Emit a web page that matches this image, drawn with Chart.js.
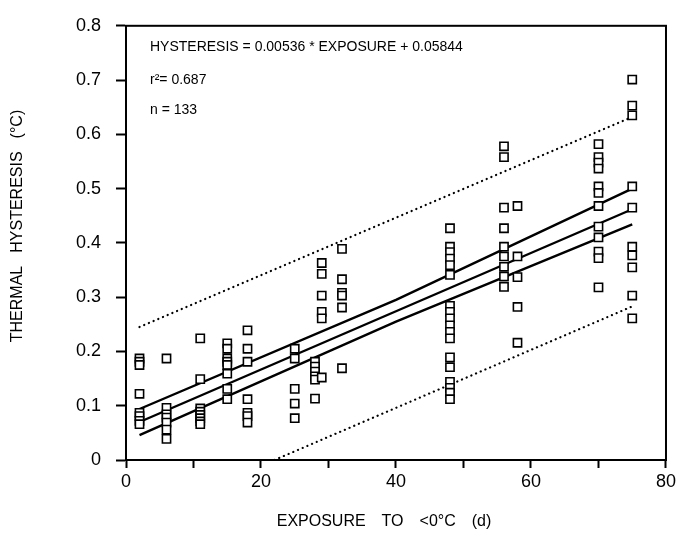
<!DOCTYPE html>
<html>
<head>
<meta charset="utf-8">
<script src="https://cdn.jsdelivr.net/npm/chart.js@4.4.0/dist/chart.umd.min.js"></script>
<style>
  html, body { margin: 0; padding: 0; background: #fff; }
  #wrap { width: 679px; height: 535px; }
</style>
</head>
<body>
<div id="wrap"><canvas id="myChart" width="679" height="535"></canvas></div>
<script>
// exposure (days below 0 °C) for each column of samples
const exposureDays = [2, 6, 11, 15, 18, 25, 28, 29, 32, 48, 56, 58, 70, 75];

// thermal hysteresis readings (°C) for each exposure column
const hysteresisValues = [
    [0.187, 0.181, 0.175, 0.122, 0.087, 0.081, 0.072, 0.066],
    [0.187, 0.096, 0.084, 0.078, 0.069, 0.056, 0.039],
    [0.224, 0.149, 0.095, 0.089, 0.083, 0.077, 0.071, 0.066],
    [0.215, 0.205, 0.187, 0.181, 0.175, 0.159, 0.131, 0.112],
    [0.239, 0.205, 0.181, 0.112, 0.087, 0.081, 0.069],
    [0.205, 0.187, 0.131, 0.104, 0.077],
    [0.181, 0.172, 0.163, 0.154, 0.148, 0.113],
    [0.363, 0.343, 0.303, 0.273, 0.261, 0.152],
    [0.389, 0.333, 0.308, 0.303, 0.281, 0.169],
    [0.427, 0.393, 0.383, 0.371, 0.359, 0.341, 0.284, 0.273, 0.261, 0.248, 0.236, 0.224, 0.189, 0.171, 0.144, 0.133, 0.124, 0.112],
    [0.578, 0.558, 0.465, 0.427, 0.393, 0.375, 0.356, 0.338, 0.319],
    [0.468, 0.375, 0.337, 0.282, 0.216],
    [0.582, 0.558, 0.548, 0.537, 0.504, 0.492, 0.468, 0.430, 0.410, 0.384, 0.372, 0.318],
    [0.701, 0.653, 0.635, 0.504, 0.465, 0.393, 0.377, 0.355, 0.303, 0.261]
];

// regression line and its bands
const fitX = [2, 75];
const fitY = [0.070, 0.462];
const confUpperX = [2, 40, 75];
const confUpperY = [0.094, 0.295, 0.500];
const confLowerX = [2, 40, 75];
const confLowerY = [0.046, 0.255, 0.434];
const predUpperX = [2, 75];
const predUpperY = [0.245, 0.632];
const predLowerX = [22, 75];
const predLowerY = [0.0, 0.283];

// axis ticks
const xTicks = [0, 20, 40, 60, 80];
const yTicks = [0, 0.1, 0.2, 0.3, 0.4, 0.5, 0.6, 0.7, 0.8];

// titles and annotation text
const xTitle = 'EXPOSURE TO <0\u00B0C (d)';
const yTitle = 'THERMAL HYSTERESIS (\u00B0C)';
const noteLines = ['HYSTERESIS = 0.00536 * EXPOSURE + 0.05844', 'r\u00B2= 0.687', 'n = 133'];

const FONT = '"Liberation Sans", Arial, Helvetica, sans-serif';

function toPoints(xs, ys) {
    return xs.map((x, i) => ({ x: x, y: ys[i] }));
}

const samplePoints = [];
exposureDays.forEach((d, i) => {
    hysteresisValues[i].forEach(v => samplePoints.push({ x: d, y: v }));
});

function lineSet(xs, ys, dotted) {
    return {
        data: toPoints(xs, ys),
        showLine: true,
        pointRadius: 0,
        borderColor: '#000',
        borderWidth: dotted ? 2.2 : 2.4,
        borderDash: dotted ? [0.1, 5] : [],
        borderCapStyle: dotted ? 'round' : 'butt',
        fill: false
    };
}

// text with a set gap between words, centred on (0,0) of the current transform
function spacedText(ctx, text, gap) {
    const words = text.split(' ');
    const widths = words.map(w => ctx.measureText(w).width);
    const total = widths.reduce((a, b) => a + b, 0) + gap * (words.length - 1);
    let x = -total / 2;
    words.forEach((w, i) => {
        ctx.fillText(w, x, 0);
        x += widths[i] + gap;
    });
}

// frame round the plot, axis titles and text block
const framePlugin = {
    id: 'frame',
    afterDraw(chart) {
        const a = chart.chartArea;
        const ctx = chart.ctx;
        ctx.save();
        ctx.strokeStyle = '#000';
        ctx.lineWidth = 2;
        ctx.strokeRect(a.left, a.top, a.right - a.left, a.bottom - a.top);
        ctx.fillStyle = '#000';

        ctx.font = '14px ' + FONT;
        ctx.textBaseline = 'middle';
        ctx.textAlign = 'left';
        const rows = [47, 80, 110];
        noteLines.forEach((t, i) => ctx.fillText(t, a.left + 24, rows[i]));

        ctx.font = '16px ' + FONT;
        ctx.save();
        ctx.translate(384, 522);
        spacedText(ctx, xTitle, 16);
        ctx.restore();

        ctx.save();
        ctx.translate(18, 226);
        ctx.rotate(-Math.PI / 2);
        spacedText(ctx, yTitle, 13);
        ctx.restore();

        ctx.restore();
    }
};

const ctx = document.getElementById('myChart').getContext('2d');
new Chart(ctx, {
    type: 'scatter',
    data: {
        datasets: [
            {
                data: samplePoints,
                pointStyle: 'rect',
                pointRadius: 5.8,
                pointBorderWidth: 1.6,
                pointBorderColor: '#000',
                pointBackgroundColor: '#fff',
                showLine: false
            },
            lineSet(fitX, fitY, false),
            lineSet(confUpperX, confUpperY, false),
            lineSet(confLowerX, confLowerY, false),
            lineSet(predUpperX, predUpperY, true),
            lineSet(predLowerX, predLowerY, true)
        ]
    },
    options: {
        responsive: false,
        animation: false,
        layout: { padding: { top: 18, right: 13, left: 0, bottom: 0 } },
        plugins: {
            legend: { display: false },
            tooltip: { enabled: false }
        },
        scales: {
            x: {
                type: 'linear',
                min: 0,
                max: 80,
                afterFit: s => { s.height = 75; },
                ticks: {
                    stepSize: 10,
                    color: '#000',
                    font: { family: FONT, size: 18 },
                    padding: 3,
                    maxRotation: 0,
                    callback: v => xTicks.includes(v) ? String(v) : ''
                },
                grid: { drawOnChartArea: false, tickLength: 8, tickWidth: 2, color: '#000' },
                border: { color: '#000', width: 2 }
            },
            y: {
                type: 'linear',
                min: 0,
                max: 0.8,
                afterFit: s => { s.width = 126; },
                afterBuildTicks: s => { s.ticks = yTicks.map(v => ({ value: v })); },
                ticks: {
                    color: '#000',
                    font: { family: FONT, size: 18 },
                    padding: 15,
                    callback: v => String(Math.round(v * 10) / 10)
                },
                grid: { drawOnChartArea: false, tickLength: 10, tickWidth: 2, color: '#000' },
                border: { color: '#000', width: 2 }
            }
        }
    },
    plugins: [framePlugin]
});
</script>
</body>
</html>
